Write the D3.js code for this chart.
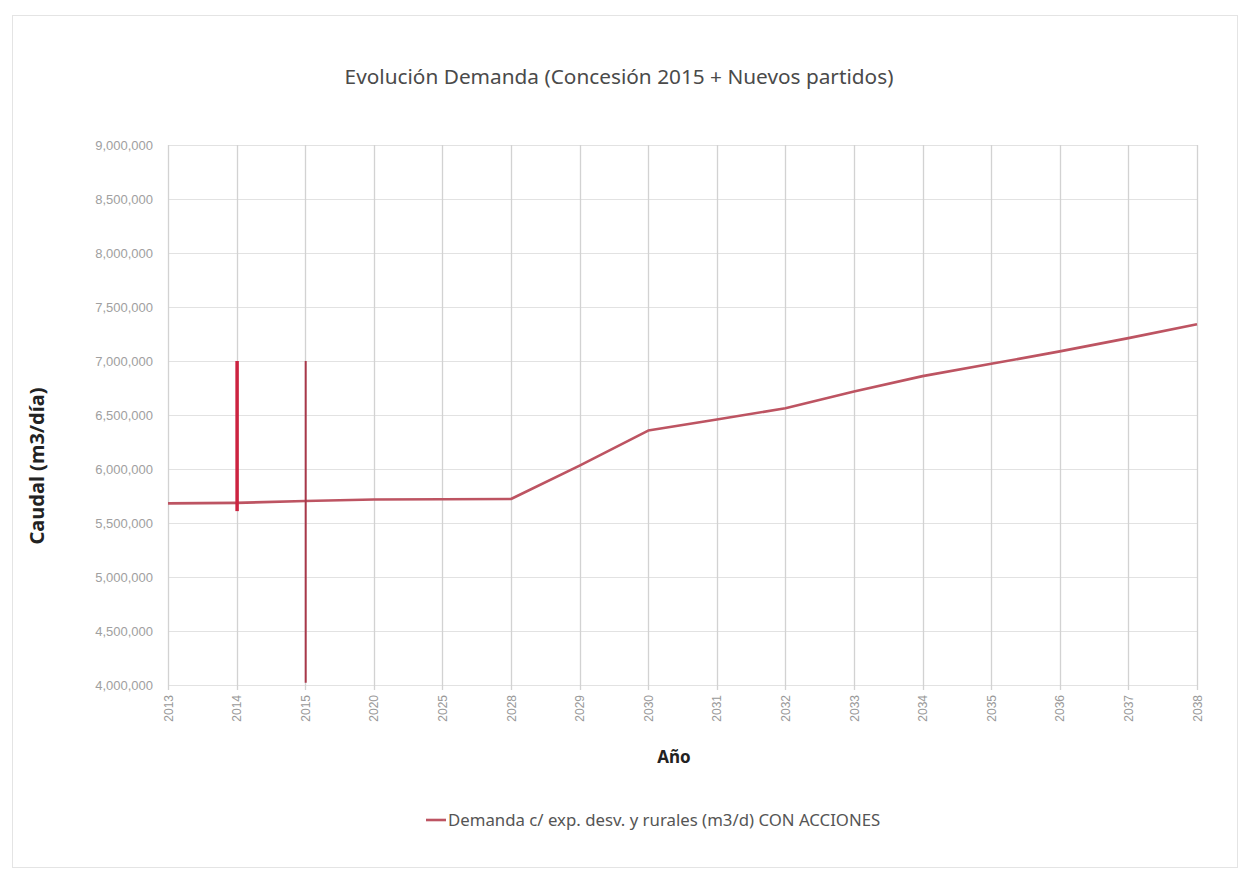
<!DOCTYPE html>
<html>
<head>
<meta charset="utf-8">
<script src="https://cdn.jsdelivr.net/npm/d3@7"></script>
<style>
  body { margin: 0; background: #fff; }
  svg { display: block; }
</style>
</head>
<body>
<svg id="chart" width="1244" height="875"></svg>
<script>
// categories (x axis) and the demand series
var years = ['2013', '2014', '2015', '2020', '2025', '2028', '2029', '2030', '2031',
             '2032', '2033', '2034', '2035', '2036', '2037', '2038'];
var demanda = [5682000, 5686000, 5704000, 5717000, 5720000, 5722000, 6031000, 6356000,
               6458000, 6563000, 6717000, 6860000, 6974000, 7089000, 7212000, 7340000];

// the two vertical red marks
var markYears = ['2014', '2015'];
var markTop = [7000000, 7000000];
var markBottom = [5610000, 4020000];

var yTicks = [4000000, 4500000, 5000000, 5500000, 6000000, 6500000, 7000000,
              7500000, 8000000, 8500000, 9000000];

var svg = d3.select('#chart');

// plot box (note: "top" is taken by window.top, so use other names)
var plotL = 168, plotR = 1197, plotT = 145, plotB = 685;
var fontFam = '"Liberation Sans", Arial, sans-serif';

// outer frame of the chart
svg.append('rect')
  .attr('x', 12.5).attr('y', 15.5)
  .attr('width', 1225).attr('height', 852)
  .attr('fill', '#fff')
  .attr('stroke', '#e4e4e4');

var x = d3.scalePoint().domain(years).range([plotL, plotR]);
var y = d3.scaleLinear().domain([4000000, 9000000]).range([plotB, plotT]);

// horizontal grid
svg.append('g')
  .selectAll('line')
  .data(yTicks)
  .join('line')
  .attr('x1', plotL).attr('x2', plotR)
  .attr('y1', function(d) { return Math.round(y(d)) + 0.5; })
  .attr('y2', function(d) { return Math.round(y(d)) + 0.5; })
  .attr('stroke', '#e2e2e2')
  .attr('stroke-width', 1);

// vertical grid, one per category
svg.append('g')
  .selectAll('line')
  .data(years)
  .join('line')
  .attr('x1', function(d) { return Math.round(x(d)) + 0.5; })
  .attr('x2', function(d) { return Math.round(x(d)) + 0.5; })
  .attr('y1', plotT).attr('y2', plotB + 5)
  .attr('stroke', '#d2d2d2')
  .attr('stroke-width', 1.3);

// y tick labels
var fmt = d3.format(',');
svg.append('g')
  .selectAll('text')
  .data(yTicks)
  .join('text')
  .attr('x', 153)
  .attr('y', function(d) { return y(d) + 4.5; })
  .attr('text-anchor', 'end')
  .style('font', '13px ' + fontFam)
  .style('fill', '#a0a0a0')
  .text(function(d) { return fmt(d); });

// x tick labels, rotated
svg.append('g')
  .selectAll('text')
  .data(years)
  .join('text')
  .attr('transform', function(d) { return 'translate(' + (x(d) + 4.5) + ',' + 695 + ') rotate(-90)'; })
  .attr('text-anchor', 'end')
  .style('font', '12px ' + fontFam)
  .style('fill', '#999')
  .text(function(d) { return d; });

// the demand line
var line = d3.line()
  .x(function(d, i) { return x(years[i]); })
  .y(function(d) { return y(d); });

svg.append('path')
  .datum(demanda)
  .attr('d', line)
  .attr('fill', 'none')
  .attr('stroke', '#bd5462')
  .attr('stroke-width', 2.6)
  .attr('stroke-linejoin', 'round');

// vertical marks
var markColors = ['#cc2340', '#a8384a'];
var markWidths = [3.5, 2];
svg.append('g')
  .selectAll('line')
  .data(markYears)
  .join('line')
  .attr('x1', function(d) { return x(d) + 0.5; })
  .attr('x2', function(d) { return x(d) + 0.5; })
  .attr('y1', function(d, i) { return y(markTop[i]); })
  .attr('y2', function(d, i) { return y(markBottom[i]); })
  .attr('stroke', function(d, i) { return markColors[i]; })
  .attr('stroke-width', function(d, i) { return markWidths[i]; });

// title
svg.append('text')
  .attr('x', 619).attr('y', 84)
  .attr('text-anchor', 'middle')
  .style('font', '20.8px "Noto Sans", sans-serif')
  .style('fill', '#4a4a4a')
  .text('Evolución Demanda (Concesión 2015 + Nuevos partidos)');

// axis titles
svg.append('text')
  .attr('transform', 'translate(44,' + 466 + ') rotate(-90)')
  .attr('text-anchor', 'middle')
  .style('font', 'bold 20px "Noto Sans", sans-serif')
  .style('fill', '#222')
  .text('Caudal (m3/día)');

svg.append('text')
  .attr('x', 674).attr('y', 763)
  .attr('text-anchor', 'middle')
  .style('font', 'bold 17px "Noto Sans", sans-serif')
  .style('fill', '#222')
  .text('Año');

// legend
var lg = svg.append('g').attr('transform', 'translate(426,820)');
lg.append('line')
  .attr('x1', 0).attr('x2', 20)
  .attr('y1', 0).attr('y2', 0)
  .attr('stroke', '#bd5462')
  .attr('stroke-width', 2.6);
lg.append('text')
  .attr('x', 22).attr('y', 5.5)
  .style('font', '16.8px "Noto Sans", sans-serif')
  .style('fill', '#555')
  .text('Demanda c/ exp. desv. y rurales (m3/d) CON ACCIONES');
</script>
</body>
</html>
